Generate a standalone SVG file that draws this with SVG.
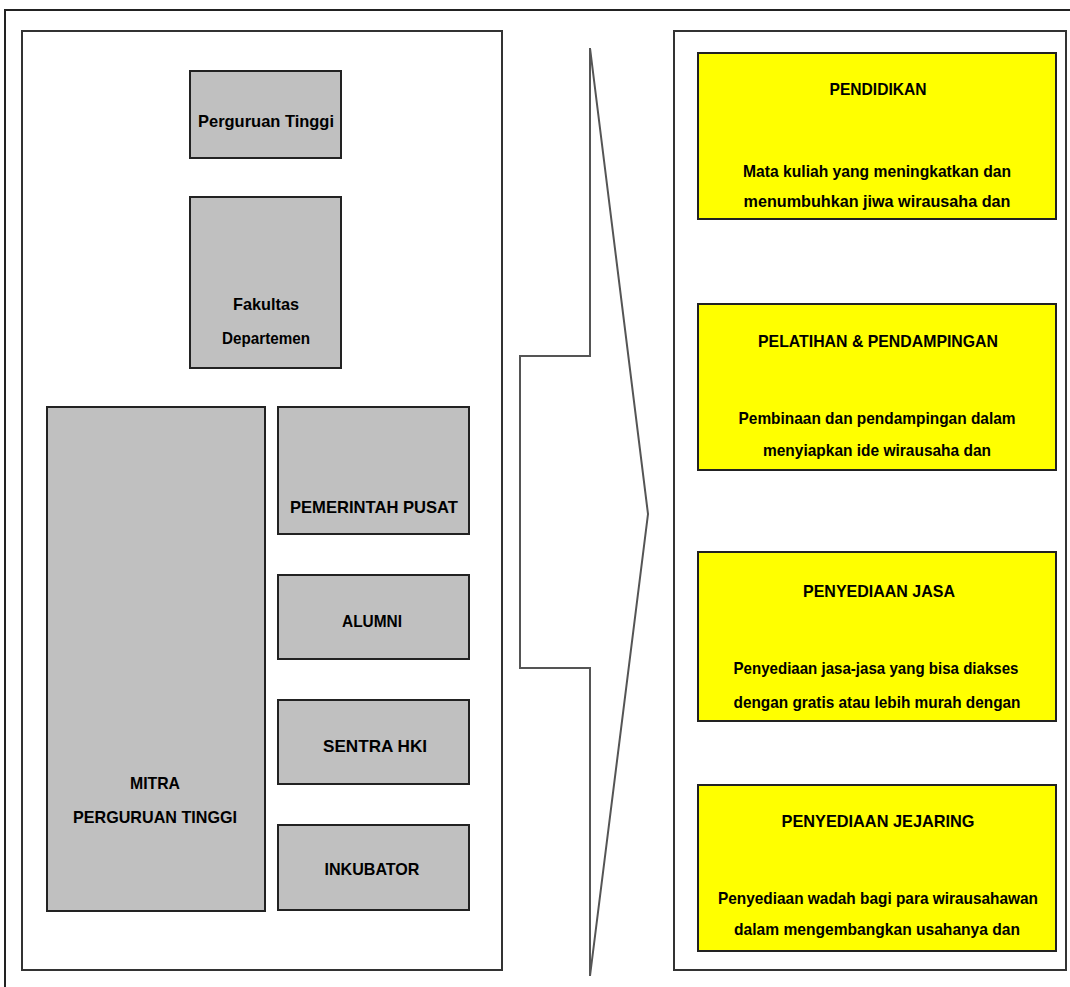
<svg xmlns="http://www.w3.org/2000/svg" width="1070" height="987" viewBox="0 0 1070 987">
<style>
.frame{fill:#fff;stroke:#333;stroke-width:2}
.g{fill:#c0c0c0;stroke:#222;stroke-width:2}
.y{fill:#ffff00;stroke:#222;stroke-width:2}
text{font-family:"Liberation Sans",Arial,sans-serif;font-size:17px;font-weight:bold;fill:#000;text-anchor:middle}
.arrow{fill:#fff;stroke:#555;stroke-width:2;stroke-linejoin:miter}
</style>
<rect width="1070" height="987" fill="#fff"/>
<path d="M5 987 V10 H1070" fill="none" stroke="#222" stroke-width="2"/>
<rect class="frame" x="22" y="31" width="480" height="939"/>
<rect class="frame" x="674" y="31" width="392" height="939"/>
<g id="arrow"><path class="arrow" d="M590 48 L590 356 L520 356 L520 668 L590 668 L590 976 L648 514 Z"/></g>
<g id="perguruan-tinggi"><rect class="g" x="190" y="71" width="151" height="87"/><text x="266" y="127" textLength="136" lengthAdjust="spacingAndGlyphs">Perguruan Tinggi</text></g>
<g id="fakultas"><rect class="g" x="190" y="197" width="151" height="171"/><text x="266" y="310" textLength="66" lengthAdjust="spacingAndGlyphs">Fakultas</text><text x="266" y="344" textLength="88" lengthAdjust="spacingAndGlyphs">Departemen</text></g>
<g id="mitra"><rect class="g" x="47" y="407" width="218" height="504"/><text x="155" y="789" textLength="50" lengthAdjust="spacingAndGlyphs">MITRA</text><text x="155" y="823" textLength="164" lengthAdjust="spacingAndGlyphs">PERGURUAN TINGGI</text></g>
<g id="pemerintah"><rect class="g" x="278" y="407" width="191" height="127"/><text x="374" y="513" textLength="168" lengthAdjust="spacingAndGlyphs">PEMERINTAH PUSAT</text></g>
<g id="alumni"><rect class="g" x="278" y="575" width="191" height="84"/><text x="372" y="627" textLength="60" lengthAdjust="spacingAndGlyphs">ALUMNI</text></g>
<g id="sentra"><rect class="g" x="278" y="700" width="191" height="84"/><text x="375" y="752" textLength="104" lengthAdjust="spacingAndGlyphs">SENTRA HKI</text></g>
<g id="inkubator"><rect class="g" x="278" y="825" width="191" height="85"/><text x="372" y="875" textLength="95" lengthAdjust="spacingAndGlyphs">INKUBATOR</text></g>
<g id="pendidikan"><rect class="y" x="698" y="53" width="358" height="166"/><text x="878" y="95" textLength="97" lengthAdjust="spacingAndGlyphs">PENDIDIKAN</text><text x="877" y="177" textLength="268" lengthAdjust="spacingAndGlyphs">Mata kuliah yang meningkatkan dan</text><text x="877" y="207" textLength="267" lengthAdjust="spacingAndGlyphs">menumbuhkan  jiwa wirausaha dan</text></g>
<g id="pelatihan"><rect class="y" x="698" y="304" width="358" height="166"/><text x="878" y="347" textLength="240" lengthAdjust="spacingAndGlyphs">PELATIHAN &amp; PENDAMPINGAN</text><text x="877" y="424" textLength="277" lengthAdjust="spacingAndGlyphs">Pembinaan dan pendampingan dalam</text><text x="877" y="456" textLength="228" lengthAdjust="spacingAndGlyphs">menyiapkan  ide wirausaha dan</text></g>
<g id="jasa"><rect class="y" x="698" y="552" width="358" height="169"/><text x="879" y="597" textLength="152" lengthAdjust="spacingAndGlyphs">PENYEDIAAN JASA</text><text x="876" y="674" textLength="285" lengthAdjust="spacingAndGlyphs">Penyediaan jasa-jasa yang bisa diakses</text><text x="877" y="708" textLength="287" lengthAdjust="spacingAndGlyphs">dengan gratis atau lebih murah dengan</text></g>
<g id="jejaring"><rect class="y" x="698" y="785" width="358" height="166"/><text x="878" y="827" textLength="193" lengthAdjust="spacingAndGlyphs">PENYEDIAAN  JEJARING</text><text x="878" y="904" textLength="320" lengthAdjust="spacingAndGlyphs">Penyediaan wadah bagi para wirausahawan</text><text x="877" y="935" textLength="286" lengthAdjust="spacingAndGlyphs">dalam mengembangkan  usahanya dan</text></g>
<g id="connectors"></g>
</svg>
